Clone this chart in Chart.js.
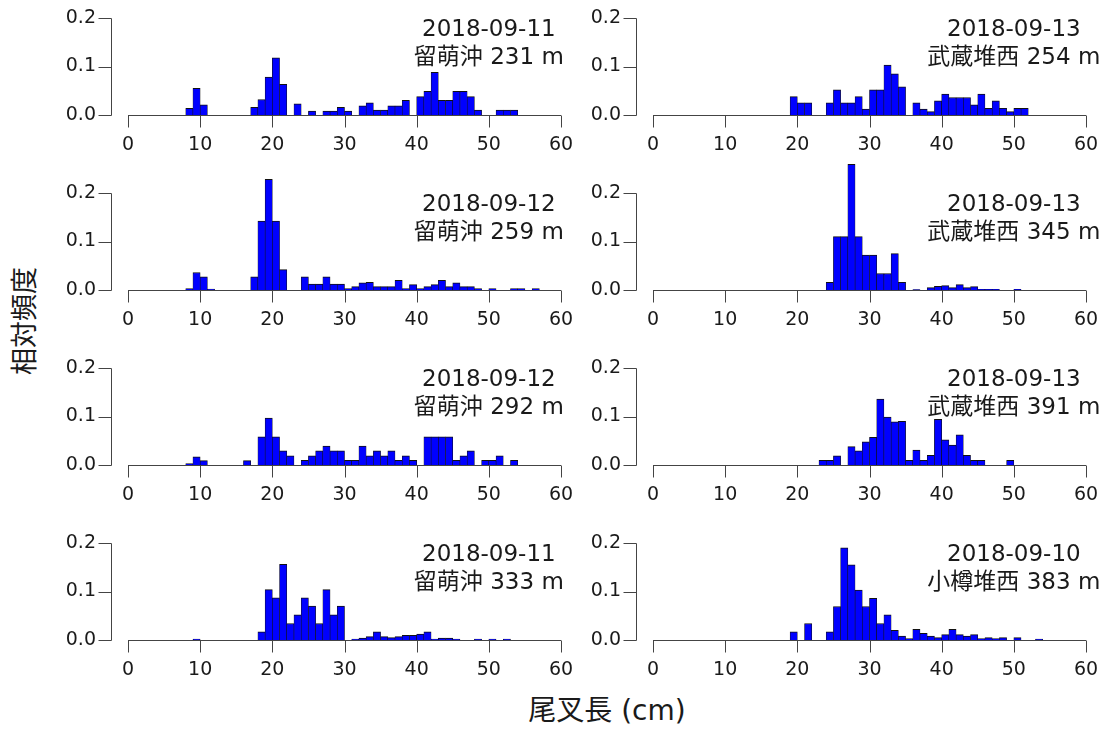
<!DOCTYPE html>
<html>
<head>
<meta charset="utf-8">
<script src="https://cdn.jsdelivr.net/npm/chart.js@4/dist/chart.umd.min.js"></script>
<style>
    body { margin: 0; background: #fff; width: 1112px; height: 730px; position: relative; overflow: hidden; }
    .panel { position: absolute; width: 528px; height: 182px; }
    .title { position: absolute; color: #1a1a1a; font-family: "DejaVu Sans", "Noto Sans CJK JP", sans-serif; white-space: nowrap; }
    #ytitle { left: 22px; top: 321px; font-size: 27px; transform: translate(-50%, -50%) rotate(-90deg); }
    #xtitle { left: 607px; top: 708px; font-size: 28px; transform: translate(-50%, -50%); }
</style>
</head>
<body>
<div class="title" id="ytitle">相対頻度</div>
<div class="title" id="xtitle">尾叉長 (cm)</div>

<script>
// relative frequency per 1 cm fork-length bin (bins 0-1, 1-2, ... 59-60 cm)
const rumoi231 = [
    0, 0, 0, 0, 0, 0, 0, 0, 0.014, 0.055,
    0.021, 0, 0, 0, 0, 0, 0, 0.016, 0.032, 0.078,
    0.118, 0.063, 0, 0.023, 0, 0.008, 0, 0.008, 0.008, 0.016,
    0.008, 0, 0.019, 0.025, 0.010, 0.010, 0.019, 0.019, 0.030, 0,
    0.038, 0.049, 0.088, 0.030, 0.030, 0.049, 0.049, 0.038, 0.010, 0,
    0, 0.010, 0.010, 0.010, 0, 0, 0, 0, 0, 0
];
const musashi254 = [
    0, 0, 0, 0, 0, 0, 0, 0, 0, 0,
    0, 0, 0, 0, 0, 0, 0, 0, 0, 0.038,
    0.025, 0.025, 0, 0, 0.025, 0.052, 0.025, 0.025, 0.038, 0.012,
    0.052, 0.052, 0.103, 0.085, 0.058, 0, 0.025, 0.012, 0.007, 0.029,
    0.043, 0.036, 0.036, 0.036, 0.021, 0.043, 0.014, 0.029, 0.014, 0.007,
    0.014, 0.014, 0, 0, 0, 0, 0, 0, 0, 0
];
const rumoi259 = [
    0, 0, 0, 0, 0, 0, 0, 0, 0.003, 0.036,
    0.027, 0.002, 0, 0, 0, 0, 0, 0.027, 0.142, 0.228,
    0.142, 0.042, 0, 0, 0.027, 0.012, 0.012, 0.027, 0.012, 0.012,
    0.003, 0.007, 0.015, 0.016, 0.007, 0.007, 0.007, 0.020, 0.003, 0.011,
    0.003, 0.007, 0.011, 0.020, 0.007, 0.015, 0.007, 0.007, 0.003, 0,
    0.003, 0, 0, 0.003, 0.003, 0, 0.003, 0, 0, 0
];
const musashi345 = [
    0, 0, 0, 0, 0, 0, 0, 0, 0, 0,
    0, 0, 0, 0, 0, 0, 0, 0, 0, 0,
    0, 0, 0, 0, 0.016, 0.110, 0.110, 0.259, 0.110, 0.072,
    0.072, 0.034, 0.034, 0.075, 0.016, 0, 0.001, 0, 0.005, 0.0075,
    0.009, 0.005, 0.011, 0.005, 0.007, 0.0015, 0.0015, 0.0015, 0, 0,
    0.0015, 0, 0, 0, 0, 0, 0, 0, 0, 0
];
const rumoi292 = [
    0, 0, 0, 0, 0, 0, 0, 0, 0.003, 0.017,
    0.009, 0, 0, 0, 0, 0, 0.009, 0, 0.058, 0.097,
    0.058, 0.029, 0.019, 0, 0.0095, 0.019, 0.029, 0.039, 0.029, 0.029,
    0.0095, 0.0095, 0.039, 0.019, 0.029, 0.019, 0.029, 0.0095, 0.019, 0.0095,
    0, 0.058, 0.058, 0.058, 0.058, 0.0095, 0.019, 0.029, 0, 0.0095,
    0.0095, 0.019, 0, 0.0095, 0, 0, 0, 0, 0, 0
];
const musashi391 = [
    0, 0, 0, 0, 0, 0, 0, 0, 0, 0,
    0, 0, 0, 0, 0, 0, 0, 0, 0, 0,
    0, 0, 0, 0.0095, 0.0095, 0.019, 0, 0.038, 0.029, 0.048,
    0.057, 0.136, 0.099, 0.089, 0.090, 0.0095, 0.031, 0.0095, 0.020, 0.094,
    0.052, 0.041, 0.062, 0.020, 0.0095, 0.0095, 0, 0, 0, 0.0095,
    0, 0, 0, 0, 0, 0, 0, 0, 0, 0
];
const rumoi333 = [
    0, 0, 0, 0, 0, 0, 0, 0, 0, 0.002,
    0, 0, 0, 0, 0, 0, 0, 0, 0.017, 0.104,
    0.087, 0.156, 0.034, 0.052, 0.087, 0.070, 0.034, 0.104, 0.052, 0.070,
    0, 0.002, 0.004, 0.007, 0.017, 0.007, 0.005, 0.007, 0.0095, 0.0095,
    0.012, 0.017, 0.002, 0.004, 0.004, 0.002, 0, 0, 0.002, 0,
    0.002, 0, 0.002, 0, 0, 0, 0, 0, 0, 0
];
const otaru383 = [
    0, 0, 0, 0, 0, 0, 0, 0, 0, 0,
    0, 0, 0, 0, 0, 0, 0, 0, 0, 0.017,
    0, 0.034, 0, 0, 0.017, 0.069, 0.190, 0.155, 0.103, 0.069,
    0.086, 0.034, 0.052, 0.020, 0.008, 0.003, 0.022, 0.014, 0.008, 0.005,
    0.011, 0.022, 0.011, 0.008, 0.011, 0.003, 0.005, 0.003, 0.005, 0,
    0.005, 0, 0, 0.002, 0, 0, 0, 0, 0, 0
];

const xTicks = [0, 10, 20, 30, 40, 50, 60];
const yTicks = [0, 0.1, 0.2];

const panels = [
    { date: '2018-09-11', place: '留萌沖 231 m',   values: rumoi231,   col: 0, row: 0 },
    { date: '2018-09-13', place: '武蔵堆西 254 m', values: musashi254, col: 1, row: 0 },
    { date: '2018-09-12', place: '留萌沖 259 m',   values: rumoi259,   col: 0, row: 1 },
    { date: '2018-09-13', place: '武蔵堆西 345 m', values: musashi345, col: 1, row: 1 },
    { date: '2018-09-12', place: '留萌沖 292 m',   values: rumoi292,   col: 0, row: 2 },
    { date: '2018-09-13', place: '武蔵堆西 391 m', values: musashi391, col: 1, row: 2 },
    { date: '2018-09-11', place: '留萌沖 333 m',   values: rumoi333,   col: 0, row: 3 },
    { date: '2018-09-10', place: '小樽堆西 383 m', values: otaru383,   col: 1, row: 3 }
];

const FONT = '"DejaVu Sans", "Noto Sans CJK JP", sans-serif';
const INK = '#1a1a1a';

// R-style axes: detached y axis, x axis only spanning the data range, plus the label text
const rAxes = {
    id: 'rAxes',
    afterDraw(chart, args, opts) {
        const { ctx, scales: { x, y } } = chart;
        const y0 = Math.round(y.getPixelForValue(0)) + 0.5;
        const yTop = Math.round(y.getPixelForValue(yTicks[yTicks.length - 1])) + 0.5;
        const ax = Math.round(chart.chartArea.left - 17) + 0.5;

        ctx.save();
        ctx.strokeStyle = '#444';
        ctx.lineWidth = 1;
        ctx.beginPath();
        ctx.moveTo(ax, y0);
        ctx.lineTo(ax, yTop);
        yTicks.forEach(v => {
            const py = Math.round(y.getPixelForValue(v)) + 0.5;
            ctx.moveTo(ax, py);
            ctx.lineTo(ax - 13, py);
        });
        ctx.moveTo(x.getPixelForValue(xTicks[0]), y0);
        ctx.lineTo(x.getPixelForValue(xTicks[xTicks.length - 1]), y0);
        xTicks.forEach(v => {
            const px = Math.round(x.getPixelForValue(v)) + 0.5;
            ctx.moveTo(px, y0);
            ctx.lineTo(px, y0 + 12);
        });
        ctx.stroke();

        ctx.fillStyle = INK;
        ctx.font = '23px ' + FONT;
        ctx.textAlign = 'center';
        ctx.textBaseline = 'middle';
        ctx.fillText(opts.date, x.getPixelForValue(50), y.getPixelForValue(0.176));
        ctx.fillText(opts.place, x.getPixelForValue(50), y.getPixelForValue(0.118));
        ctx.restore();
    }
};

function drawPanel(p) {
    const canvas = document.createElement('canvas');
    canvas.className = 'panel';
    canvas.width = 528;
    canvas.height = 182;
    canvas.style.left = (p.col ? 578 : 53) + 'px';
    canvas.style.top = (-27 + p.row * 175) + 'px';
    document.body.appendChild(canvas);

    new Chart(canvas, {
        type: 'bar',
        data: {
            datasets: [{
                data: p.values.map((v, i) => ({ x: i + 0.5, y: v || null })),
                backgroundColor: '#0000ff',
                borderColor: '#111',
                borderWidth: { top: 1, left: 0.6, right: 0.6, bottom: 0 },
                barPercentage: 1,
                categoryPercentage: 1,
                clip: false
            }]
        },
        options: {
            responsive: false,
            animation: false,
            layout: { padding: { top: 45, right: 20, left: 0, bottom: 0 } },
            plugins: {
                legend: { display: false },
                tooltip: { enabled: false },
                rAxes: { date: p.date, place: p.place }
            },
            scales: {
                x: {
                    type: 'linear',
                    min: 0,
                    max: 60,
                    offset: false,
                    grid: { display: false, drawTicks: false },
                    border: { display: false },
                    afterBuildTicks: s => { s.ticks = xTicks.map(v => ({ value: v })); },
                    afterFit: s => {
                        s.height = 40;
                        s.paddingLeft = s.paddingRight = 0;
                    },
                    ticks: { padding: 19, maxRotation: 0, color: INK, font: { family: FONT, size: 19 } }
                },
                y: {
                    min: 0,
                    max: 0.2,
                    grid: { display: false, drawTicks: false },
                    border: { display: false },
                    afterBuildTicks: s => { s.ticks = yTicks.map(v => ({ value: v })); },
                    afterFit: s => {
                        s.width = 75;
                        s.paddingTop = s.paddingBottom = 0;
                    },
                    ticks: {
                        padding: 32,
                        color: INK,
                        font: { family: FONT, size: 19 },
                        callback: v => v.toFixed(1)
                    }
                }
            }
        },
        plugins: [rAxes]
    });
}

panels.forEach(drawPanel);
</script>
</body>
</html>
